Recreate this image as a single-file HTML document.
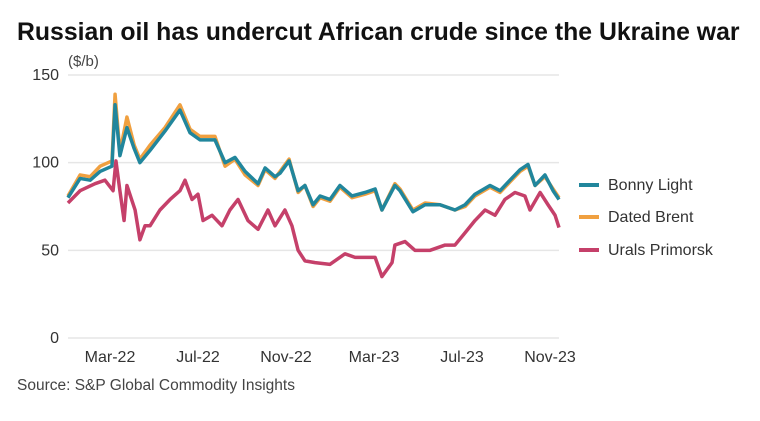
<!DOCTYPE html>
<html><head><meta charset="utf-8">
<style>
body{margin:0;background:#fff;width:760px;height:416px;overflow:hidden;font-family:"Liberation Sans",sans-serif;}
</style></head>
<body>
<svg id="chart" width="760" height="416" xmlns="http://www.w3.org/2000/svg" font-family="Liberation Sans, sans-serif">
<text x="17" y="40" font-size="24.8" font-weight="bold" fill="#111">Russian oil has undercut African crude since the Ukraine war</text>
<text x="68" y="66" font-size="15" fill="#444">($/b)</text>
<g id="grid"></g><g id="lines"></g>
<g>
<line x1="579" y1="185" x2="599" y2="185" stroke="#21869c" stroke-width="4"/>
<text x="608" y="190" font-size="16" fill="#333">Bonny Light</text>
<line x1="579" y1="217" x2="599" y2="217" stroke="#f0a040" stroke-width="4"/>
<text x="608" y="222" font-size="16" fill="#333">Dated Brent</text>
<line x1="579" y1="250" x2="599" y2="250" stroke="#c5406a" stroke-width="4"/>
<text x="608" y="255" font-size="16" fill="#333">Urals Primorsk</text>
</g>
<text x="17" y="390" font-size="15.5" fill="#444">Source: S&amp;P Global Commodity Insights</text>
</svg>
<script>
const yTicks=[0,50,100,150];
const xTickLabels=["Mar-22","Jul-22","Nov-22","Mar-23","Jul-23","Nov-23"];
const xTickMonths=[2,6,10,14,18,22];
const bonnyMonths=[0.09,0.64,1.1,1.55,2.09,2.23,2.45,2.77,3.1,3.36,3.82,4.5,5.18,5.64,6.09,6.77,7.23,7.68,8.14,8.73,9.05,9.5,9.73,10.14,10.55,10.86,11.23,11.55,12.0,12.45,13.0,13.59,14.05,14.36,14.95,15.18,15.77,16.32,17.0,17.68,18.14,18.59,19.27,19.73,20.18,20.64,21.0,21.32,21.77,22.14,22.41];
const bonnyValues=[80,91,90,95,98,133,104,120,108,100,107,118,130,117,113,113,100,103,95,88,97,92,94,101,84,87,76,81,79,87,81,83,85,73,87,84,72,76,76,73,76,82,87,84,90,96,99,87,93,84,79];
const brentValues=[81,93,92,98,101,139,106,126,110,102,110,120,133,119,115,115,98,102,93,87,96,91,95,102,83,87,75,80,78,86,80,82,84,73,88,85,73,77,76,73,75,81,86,83,89,95,98,87,92,85,80];
const uralsMonths=[0.09,0.64,1.32,1.77,2.14,2.27,2.45,2.64,2.77,3.14,3.36,3.59,3.82,4.27,4.73,5.18,5.41,5.73,6.0,6.23,6.64,7.09,7.45,7.82,8.27,8.73,9.18,9.5,9.95,10.27,10.55,10.86,11.32,12.0,12.68,13.14,14.05,14.36,14.82,14.95,15.41,15.86,16.55,17.23,17.68,18.14,18.59,19.05,19.5,19.95,20.41,20.86,21.09,21.55,21.91,22.23,22.41];
const uralsValues=[77,84,88,90,84,101,84,67,87,73,56,64,64,73,79,84,90,79,82,67,70,64,73,79,67,62,73,64,73,64,50,44,43,42,48,46,46,35,43,53,55,50,50,53,53,60,67,73,70,79,83,81,73,83,76,70,63];
const NS="http://www.w3.org/2000/svg";
const xS=m=>66+m*22;
const yS=v=>338-v*(263/150);
const grid=document.getElementById('grid');
yTicks.forEach(t=>{
  const l=document.createElementNS(NS,'line');
  
  
  l.setAttribute('x1',68);l.setAttribute('x2',559);
  l.setAttribute('y1',yS(t));l.setAttribute('y2',yS(t));
  l.setAttribute('stroke','#e6e6e6');l.setAttribute('stroke-width','1.5');
  grid.appendChild(l);
  const tx=document.createElementNS(NS,'text');
  
  
  tx.setAttribute('x',59);tx.setAttribute('y',yS(t)+5);
  tx.setAttribute('text-anchor','end');tx.setAttribute('font-size','16');tx.setAttribute('fill','#333');
  tx.textContent=t;grid.appendChild(tx);
});
xTickLabels.forEach((s,i)=>{
  const tx=document.createElementNS(NS,'text');
  
  
  tx.setAttribute('x',xS(xTickMonths[i]));tx.setAttribute('y',362);
  tx.setAttribute('text-anchor','middle');tx.setAttribute('font-size','16');tx.setAttribute('fill','#333');
  tx.textContent=s;grid.appendChild(tx);
});
const lines=document.getElementById('lines');
function draw(ms,vs,color,name){
  const p=document.createElementNS(NS,'polyline');
  
  
  p.setAttribute('points',ms.map((m,i)=>xS(m)+','+yS(vs[i])).join(' '));
  p.setAttribute('fill','none');p.setAttribute('stroke',color);
  p.setAttribute('stroke-width','3.5');p.setAttribute('stroke-linejoin','round');
  lines.appendChild(p);
}
draw(bonnyMonths,brentValues,'#f0a040','dated-brent-line');
draw(bonnyMonths,bonnyValues,'#21869c','bonny-light-line');
draw(uralsMonths,uralsValues,'#c5406a','urals-primorsk-line');
</script>
</body></html>
